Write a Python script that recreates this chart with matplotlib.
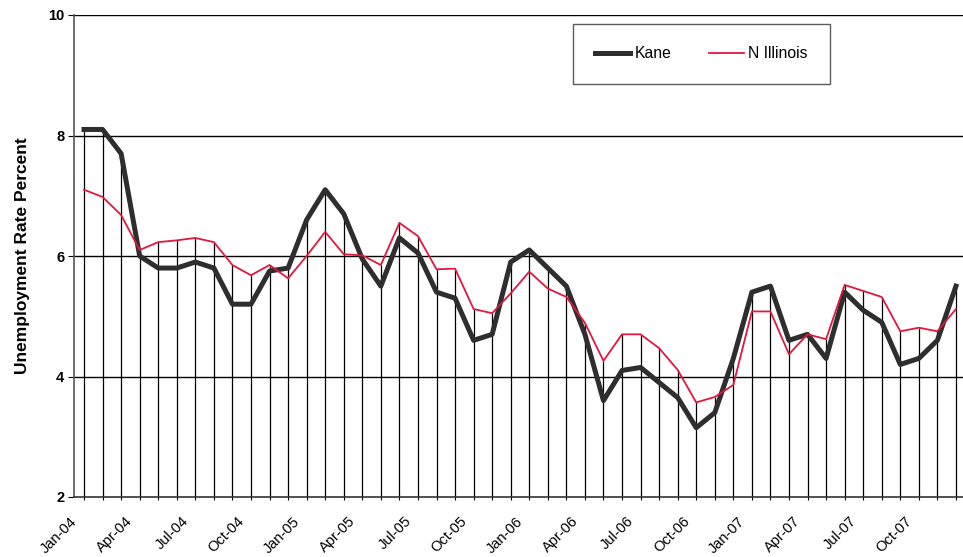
import matplotlib
matplotlib.use("Agg")
import matplotlib.pyplot as plt
import matplotlib.transforms as mtransforms
import numpy as np

plt.rcParams['font.family'] = ['Liberation Sans', 'DejaVu Sans']

months = ['Jan', 'Feb', 'Mar', 'Apr', 'May', 'Jun', 'Jul', 'Aug', 'Sep', 'Oct', 'Nov', 'Dec']
years = ['04', '05', '06', '07']
categories = [f"{m}-{y}" for y in years for m in months]

kane = [8.1, 8.1, 7.7, 6.0, 5.8, 5.8, 5.9, 5.8, 5.2, 5.2,
        5.75, 5.8, 6.6, 7.1, 6.7, 5.95, 5.5, 6.3, 6.05, 5.4,
        5.3, 4.6, 4.7, 5.9, 6.1, 5.8, 5.5, 4.7, 3.6, 4.1,
        4.15, 3.9, 3.65, 3.15, 3.4, 4.3, 5.4, 5.5, 4.6, 4.7,
        4.3, 5.4, 5.1, 4.9, 4.2, 4.3, 4.6, 5.5]
n_illinois = [7.1, 6.98, 6.68, 6.1, 6.23, 6.26, 6.3, 6.23, 5.85, 5.68,
              5.85, 5.63, 6.0, 6.4, 6.03, 6.01, 5.85, 6.55, 6.33, 5.78,
              5.79, 5.12, 5.05, 5.38, 5.74, 5.46, 5.32, 4.89, 4.26, 4.7,
              4.7, 4.47, 4.11, 3.57, 3.66, 3.86, 5.08, 5.08, 4.37, 4.7,
              4.62, 5.52, 5.42, 5.32, 4.75, 4.81, 4.75, 5.12]
yticks = [2, 4, 6, 8, 10]

fig = plt.figure(figsize=(9.63, 5.57), dpi=100)
ax = fig.add_axes([74/963, 1-497/557, 1-74/963, (497-15)/557])

x = np.arange(len(categories))
top = np.maximum(kane, n_illinois)
ax.vlines(x, 2, top, colors='black', linewidth=0.9, zorder=1)
for yv in yticks[1:]:
    ax.axhline(yv, color='black', linewidth=1.0, zorder=1)

ax.plot(x, kane, color='#2e2e2e', linewidth=3.6, label='Kane', zorder=3)
ax.plot(x, n_illinois, color='#e2173f', linewidth=1.3, label='N Illinois', zorder=4)

ax.set_xlim(-0.54, 47.38)
ax.set_ylim(2, 10)
ax.set_yticks(yticks)
ax.set_yticklabels([str(v) for v in yticks], fontweight='bold', fontsize=10.5)
ax.set_xticks(x[::3])
ax.set_xticklabels(categories[::3], rotation=45, ha='right', rotation_mode='anchor', fontsize=10.5)
ax.set_xticks(x, minor=True)
ax.tick_params(axis='x', which='both', length=4, width=0.8, direction='inout', pad=4)
ax.tick_params(axis='y', length=4, width=0.8, pad=3)
offset = mtransforms.ScaledTranslation(-0.14, -0.09, fig.dpi_scale_trans)
for lbl in ax.get_xticklabels():
    lbl.set_transform(lbl.get_transform() + offset)

ax.spines['right'].set_visible(False)
ax.spines['top'].set_visible(False)
ax.spines['left'].set_color('#555555')
ax.spines['left'].set_linewidth(1.2)
ax.spines['bottom'].set_color('#333333')
ax.spines['bottom'].set_linewidth(1.2)

ax.set_ylabel('Unemployment Rate Percent', fontweight='bold', fontsize=12.5, labelpad=13)

leg = ax.legend(loc='upper left', bbox_to_anchor=(573/963, 1-24/557), bbox_transform=fig.transFigure,
                ncol=2, frameon=True, fancybox=False, fontsize=11.3, handlelength=2.2,
                handletextpad=0.3, columnspacing=2.4, borderpad=1.42, borderaxespad=0)
leg.get_frame().set_edgecolor('#333333')
leg.get_frame().set_linewidth(1.0)

fig.savefig('out.png', dpi=100)
